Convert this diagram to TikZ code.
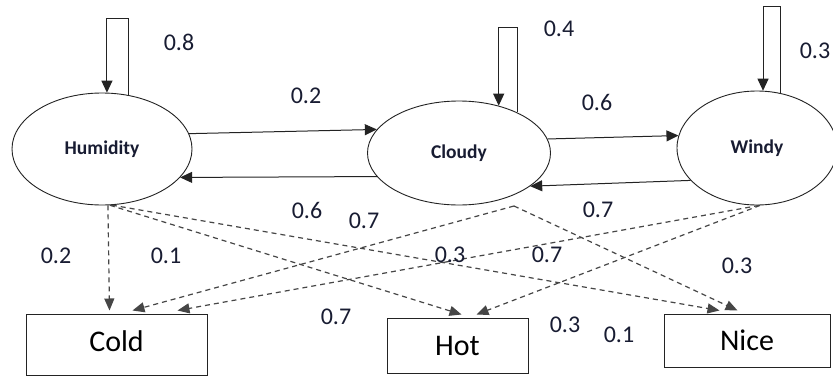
\documentclass[tikz,border=0pt]{standalone}
\usepackage{fontspec}
\setmainfont{Carlito}
\usetikzlibrary{arrows.meta,shapes.geometric}
\definecolor{ink}{RGB}{24,28,50}
\definecolor{edge}{RGB}{35,35,35}
\definecolor{dashc}{RGB}{70,70,70}
\tikzset{
  state/.style={ellipse, draw=edge, line width=0.9pt, fill=white, inner sep=0pt,
    font=\fontsize{19.5}{22}\selectfont\bfseries, text=ink},
  box/.style={rectangle, draw=edge, line width=1pt, inner sep=0pt,
    font=\fontsize{30}{36}\selectfont, text=black},
  prob/.style={font=\fontsize{24}{28}\selectfont, text=ink, inner sep=0pt},
  link/.style={draw=edge, line width=1pt, -{Triangle[length=12pt,width=11pt]}},
  emit/.style={draw=dashc, line width=1.2pt, dash pattern=on 5pt off 4pt,
    -{Triangle[length=12pt,width=10pt]}},
}
\begin{document}
\begin{tikzpicture}[x=1pt,y=-1pt]
\useasboundingbox (0,0) rectangle (833,375);
\clip (0,0) rectangle (833,375);
\fill[white] (0,0) rectangle (833,375);

% hidden states
\node[state, minimum width=180pt, minimum height=112pt] (hum) at (102,149) {Humidity};
\node[state, minimum width=183pt, minimum height=104pt] (cld) at (459,153) {Cloudy};
\node[state, minimum width=160pt, minimum height=114pt] (win) at (757,148) {Windy};

% observations
\node[box, minimum width=181pt, minimum height=61pt,
      label={[box, draw=none, yshift=3.5pt]center:Cold}] (cold) at (116.5,344.5) {};
\node[box, minimum width=141pt, minimum height=55pt] (hot) at (457.5,345.5) {Hot};
\node[box, minimum width=166pt, minimum height=53pt] (nice) at (747,340.5) {Nice};

% self transitions
\coordinate (humtop) at (0,18);
\coordinate (cldtop) at (0,27);
\coordinate (wintop) at (0,6);
\draw[link] (hum.64) -- (hum.64 |- humtop) -- (hum.85 |- humtop) -- (hum.85);
\draw[link] (cld.35) -- (cld.35 |- cldtop) -- (cld.50 |- cldtop) -- (cld.50);
\draw[link] (win.67) -- (win.67 |- wintop) -- (win.84 |- wintop) -- (win.84);

% transitions between states
\draw[link] (hum.10) -- (cld.164);
\draw[link] (cld.196) -- (hum.-20);
\draw[link] (cld.9) -- (win.171);
\draw[link] (win.-154) -- (cld.-25);

% emissions
\coordinate (cb) at (514,206);
\draw[emit] (hum.-84) -- ([xshift=84pt,yshift=3pt]cold.north west);
\draw[emit] (hum.-82) -- ([xshift=75pt,yshift=3pt]hot.north west);
\draw[emit] (hum.-80) -- ([xshift=56pt,yshift=3pt]nice.north west);
\draw[emit] (cb) -- ([xshift=107pt,yshift=3pt]cold.north west);
\draw[emit] (cb) -- ([xshift=74pt,yshift=3pt]nice.north west);
\draw[emit] (win.-88) -- ([xshift=152pt,yshift=3pt]cold.north west);
\draw[emit] (win.-87) -- ([xshift=90pt,yshift=3pt]hot.north west);

% probabilities
\node[prob] (p1) at (179,42.5) {0.8};
\node[prob] (p2) at (306,96) {0.2};
\node[prob] (p3) at (559,28.5) {0.4};
\node[prob] (p4) at (597,102) {0.6};
\node[prob] (p5) at (815,50.5) {0.3};
\node[prob] (p6) at (307,210) {0.6};
\node[prob] (p7) at (364,220.5) {0.7};
\node[prob] (p8) at (56,255.5) {0.2};
\node[prob] (p9) at (166,255.5) {0.1};
\node[prob] (p10) at (336,316.5) {0.7};
\node[prob] (p11) at (598,210) {0.7};
\node[prob] (p12) at (450,254.5) {0.3};
\node[prob] (p13) at (547,255) {0.7};
\node[prob] (p14) at (737,265.5) {0.3};
\node[prob] (p15) at (565,324.5) {0.3};
\node[prob] (p16) at (619,334.5) {0.1};
\end{tikzpicture}
\end{document}
